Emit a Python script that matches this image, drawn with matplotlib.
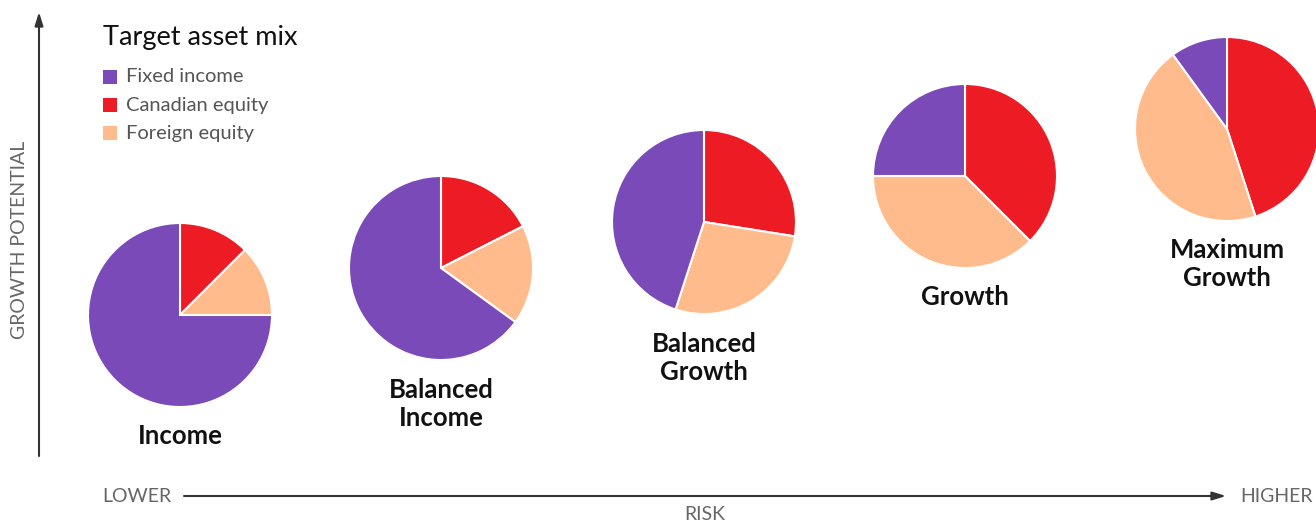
import matplotlib
matplotlib.use('Agg')
import matplotlib.pyplot as plt
from matplotlib.patches import Rectangle

# Portfolio mixes, clockwise from 12 o'clock: Canadian, Foreign, Fixed income (%)
portfolios = ['Income', 'Balanced\nIncome', 'Balanced\nGrowth', 'Growth', 'Maximum\nGrowth']
canadian_equity = [12.5, 17.5, 27.5, 37.5, 45]
foreign_equity  = [12.5, 17.5, 27.5, 37.5, 45]
fixed_income    = [75, 65, 45, 25, 10]

legend_labels = ['Fixed income', 'Canadian equity', 'Foreign equity']

PURPLE = '#7A4AB8'
RED    = '#ED1C24'
PEACH  = '#FFBB8B'
W, H = 1316, 523

plt.rcParams['font.family'] = ['Lato', 'DejaVu Sans']

fig = plt.figure(figsize=(W / 100, H / 100), dpi=100)
ax = fig.add_axes([0, 0, 1, 1])

# pie centres in pixel space (y measured from top), label y positions
centres = [(180, 315), (441, 268), (704, 222), (965, 176), (1227, 129)]
label_y = [436, 404, 358, 297, 264]
radius = 92

for name, ce, fe, fi, (cx, cy), ly in zip(portfolios, canadian_equity, foreign_equity,
                                          fixed_income, centres, label_y):
    ax.pie([ce, fe, fi], colors=[RED, PEACH, PURPLE], startangle=90,
           counterclock=False, center=(cx, H - cy), radius=radius,
           wedgeprops=dict(edgecolor='white', linewidth=1.5))
    ax.text(cx, H - ly, name, ha='center', va='center', fontsize=18.5,
            fontweight='bold', color='#111111', linespacing=1.2)

ax.set_xlim(0, W)
ax.set_ylim(0, H)
ax.set_aspect('auto')
ax.axis('off')

# axes arrows
ax.annotate('', xy=(39, H - 12), xytext=(39, H - 456),
            arrowprops=dict(arrowstyle='-|>,head_length=0.8,head_width=0.25',
                            color='#333333', lw=1.5, shrinkA=0, shrinkB=0))
ax.annotate('', xy=(1226, H - 496), xytext=(184, H - 496),
            arrowprops=dict(arrowstyle='-|>,head_length=0.8,head_width=0.25',
                            color='#333333', lw=1.5, shrinkA=0, shrinkB=0))

axis_style = dict(fontsize=14, color='#666666')
ax.text(20, H - 240, 'GROWTH POTENTIAL', rotation=90, ha='center', va='center',
        **axis_style)
ax.text(102, H - 496, 'LOWER', ha='left', va='center', **axis_style)
ax.text(1240, H - 496, 'HIGHER', ha='left', va='center', **axis_style)
ax.text(705, H - 515, 'RISK', ha='center', va='center', **axis_style)

# legend
ax.text(103, H - 37, 'Target asset mix', ha='left', va='center', fontsize=19.5,
        color='#111111')
for i, (lab, col) in enumerate(zip(legend_labels, [PURPLE, RED, PEACH])):
    y = 77 + i * 28
    ax.add_patch(Rectangle((103, H - y - 7), 14, 14, facecolor=col, edgecolor='none'))
    ax.text(126, H - y, lab, ha='left', va='center', fontsize=14.5, color='#555555')

fig.savefig('out.png', dpi=100)
